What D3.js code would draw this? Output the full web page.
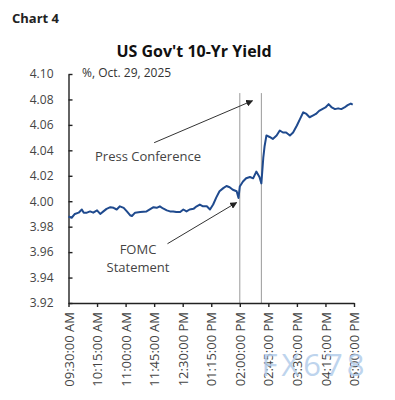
<!DOCTYPE html>
<html>
<head>
<meta charset="utf-8">
<script src="https://cdn.jsdelivr.net/npm/d3@7"></script>
<style>
  body { margin: 0; background: #fff; }
  svg { font-family: "Open Sans", "Noto Sans", sans-serif; }
</style>
</head>
<body>
<div id="chart"></div>
<script>
// intraday yield, Oct 29 2025
const times = ["09:30","09:35","09:40","09:46","09:51","09:54","09:59","10:04","10:09","10:15",
  "10:20","10:25","10:30","10:36","10:41","10:46","10:51","10:57","11:02","11:07",
  "11:10","11:15","11:23","11:33","11:44","11:49","11:54","11:59","12:05","12:10",
  "12:15","12:20","12:26","12:31","12:36","12:41","12:47","12:52","12:57","13:02",
  "13:08","13:13","13:18","13:23","13:28","13:34","13:39","13:44","13:49","13:55",
  "13:58","14:00","14:05","14:10","14:16","14:21","14:26","14:31","14:34","14:37",
  "14:39","14:42","14:47","14:52","14:58","15:03","15:08","15:13","15:19","15:24",
  "15:30","15:35","15:40","15:45","15:50","15:55","16:00","16:05","16:10","16:15",
  "16:20","16:25","16:30","16:35","16:40","16:45","16:50","16:55","16:58"];
const yields = [3.988,3.987,3.990,3.991,3.9935,3.991,3.991,3.992,3.991,3.9928,
  3.990,3.992,3.994,3.9953,3.9948,3.9935,3.996,3.9948,3.992,3.989,
  3.9884,3.991,3.9915,3.992,3.9953,3.9948,3.996,3.9943,3.9928,3.992,
  3.992,3.9915,3.9915,3.9935,3.992,3.9935,3.994,3.996,3.9974,3.996,
  3.996,3.9935,3.9974,4.003,4.0078,4.0103,4.012,4.011,4.009,4.0078,
  4.0026,4.0116,4.0155,4.018,4.019,4.018,4.0233,4.019,4.014,4.034,
  4.043,4.0517,4.0505,4.049,4.0517,4.0556,4.054,4.054,4.0517,4.054,
  4.0595,4.0647,4.0699,4.0686,4.066,4.0673,4.0686,4.071,4.0724,4.0737,
  4.0763,4.0737,4.0724,4.073,4.0724,4.0737,4.0755,4.0768,4.076];

const yTicks = [3.92,3.94,3.96,3.98,4.00,4.02,4.04,4.06,4.08,4.10];
const xTicks = ["09:30","10:15","11:00","11:45","12:30","13:15","14:00","14:45","15:30","16:15","17:00"];
const eventTimes = ["14:00","14:34"]; // FOMC statement, press conference

const parse = d3.timeParse("%H:%M");
const data = times.map((t, i) => ({ t: parse(t), v: yields[i] }));

const width = 395, height = 400;

const svg = d3.select("#chart").append("svg")
  .attr("width", width)
  .attr("height", height);

const x = d3.scaleTime()
  .domain([parse("09:30"), parse("17:00")])
  .range([68.5, 354]);

const y = d3.scaleLinear()
  .domain([3.92, 4.10])
  .range([303, 74]);

// headings
svg.append("text")
  .attr("x", 12).attr("y", 23)
  .attr("font-size", 13).attr("font-weight", "bold").attr("fill", "#222")
  .text("Chart 4");

svg.append("text")
  .attr("x", 194).attr("y", 57)
  .attr("text-anchor", "middle")
  .attr("font-size", 16).attr("font-weight", "bold").attr("fill", "#111")
  .text("US Gov't 10-Yr Yield");

svg.append("text")
  .attr("x", 82).attr("y", 77)
  .attr("font-size", 12).attr("fill", "#333")
  .text("%, Oct. 29, 2025");

// event lines
svg.append("g")
  .selectAll("line")
  .data(eventTimes)
  .join("line")
  .attr("x1", d => x(parse(d))).attr("x2", d => x(parse(d)))
  .attr("y1", y(4.085)).attr("y2", y(3.92))
  .attr("stroke", "#9a9a9a").attr("stroke-width", 1);

// axes
const yAxis = svg.append("g")
  .attr("transform", `translate(${x.range()[0]},0)`)
  .call(d3.axisLeft(y).tickValues(yTicks).tickFormat(d3.format(".2f"))
    .tickSize(-4).tickSizeOuter(0).tickPadding(15));

const xAxis = svg.append("g")
  .attr("transform", `translate(0,${y.range()[0]})`)
  .call(d3.axisBottom(x).tickValues(xTicks.map(parse))
    .tickFormat(d3.timeFormat("%I:%M:%S %p")).tickSize(4).tickSizeOuter(0));

[yAxis, xAxis].forEach(g => {
  g.selectAll("path, line").attr("stroke", "#222").attr("stroke-width", 1.4);
  g.selectAll("text").attr("fill", "#444").attr("font-size", 12)
    .attr("font-family", "'Open Sans', 'Noto Sans', sans-serif");
});

xAxis.selectAll("text")
  .attr("transform", "rotate(-90)")
  .attr("x", -9).attr("y", 0).attr("dy", "0.35em")
  .attr("font-size", 13)
  .style("text-anchor", "end");

// yield line
svg.append("path")
  .datum(data)
  .attr("fill", "none")
  .attr("stroke", "#1f4a8e")
  .attr("stroke-width", 2)
  .attr("stroke-linejoin", "round")
  .attr("d", d3.line().x(d => x(d.t)).y(d => y(d.v)));

// annotations
svg.append("defs").append("marker")
  .attr("id", "arrow")
  .attr("viewBox", "0 0 10 10")
  .attr("refX", 9).attr("refY", 5)
  .attr("markerWidth", 7).attr("markerHeight", 7)
  .attr("orient", "auto")
  .append("path").attr("d", "M0,0L10,5L0,10z").attr("fill", "#222");

const notes = [
  { from: ["11:45", 4.046], to: ["14:20", 4.079] },
  { from: ["12:06", 3.9666], to: ["13:55", 3.999] }
];
svg.append("g")
  .selectAll("line")
  .data(notes)
  .join("line")
  .attr("x1", d => x(parse(d.from[0]))).attr("y1", d => y(d.from[1]))
  .attr("x2", d => x(parse(d.to[0]))).attr("y2", d => y(d.to[1]))
  .attr("stroke", "#333").attr("stroke-width", 1)
  .attr("marker-end", "url(#arrow)");

svg.append("text")
  .attr("x", 95).attr("y", 161)
  .attr("font-size", 13).attr("fill", "#444")
  .text("Press Conference");

const fomc = svg.append("text")
  .attr("text-anchor", "middle")
  .attr("font-size", 13).attr("fill", "#444");
fomc.append("tspan").attr("x", 138).attr("y", 254).text("FOMC");
fomc.append("tspan").attr("x", 138).attr("y", 272).text("Statement");

// watermark
svg.append("text")
  .attr("x", 315).attr("y", 376)
  .attr("text-anchor", "middle")
  .attr("font-size", 31).attr("letter-spacing", 4)
  .attr("fill", "#b3cdeb").attr("opacity", 0.85)
  .text("FX678");
</script>
</body>
</html>
